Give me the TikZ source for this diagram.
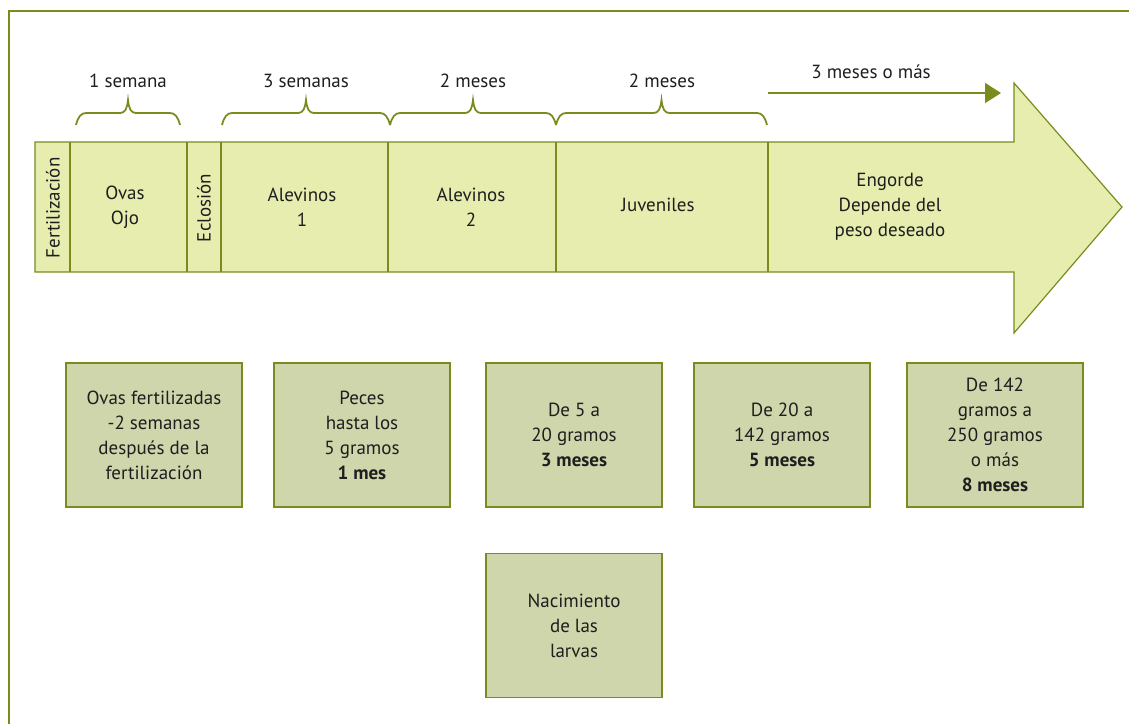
\documentclass[tikz,border=0pt]{standalone}
\usepackage{fontspec}
\setmainfont{PT Sans}
\usepackage{tikz}
\usetikzlibrary{arrows.meta, positioning}
\usepackage{xcolor}
\definecolor{olivegreen}{RGB}{122, 140, 30}
\definecolor{arrowfill}{RGB}{230, 237, 175}
\definecolor{boxfill}{RGB}{207, 214, 172}
\definecolor{textgray}{RGB}{30, 30, 30}

\tikzset{
  stagebox/.style={draw=olivegreen, line width=1.5pt, fill=boxfill, minimum width=176pt, minimum height=144pt, align=center},
  cell/.style={align=center},
  bracket/.style={draw=olivegreen, line width=1.8pt},
  divider/.style={draw=olivegreen, line width=1.2pt}
}

% curly bracket from x=#1 to x=#2, peak in the middle
\newcommand{\stagebrace}[2]{%
  \draw[bracket] (#1,125) .. controls ({#1+2},117) and ({#1+5},113) .. ({#1+10},113)
    -- ({(#1+#2)/2-8},113) .. controls ({(#1+#2)/2-3},113) and ({(#1+#2)/2-1},109) .. ({(#1+#2)/2},100)
    .. controls ({(#1+#2)/2+1},109) and ({(#1+#2)/2+3},113) .. ({(#1+#2)/2+8},113)
    -- ({#2-10},113) .. controls ({#2-5},113) and ({#2-2},117) .. (#2,125);
}

\begin{document}
\begin{tikzpicture}[x=1pt, y=-1pt, text=textgray, font=\fontsize{19}{25}\selectfont]
    \useasboundingbox (0,0) rectangle (1129,724);

    % frame
    \draw[olivegreen, line width=2.5pt] (9,724) -- (9,11) -- (1129,11);

    % big arrow
    \draw[divider, fill=arrowfill] (35,142) -- (1014,142) -- (1014,83) -- (1122,207) -- (1014,333) -- (1014,272) -- (35,272) -- cycle;
    \foreach \x in {70,187,221,388,556,768}
        \draw[divider] (\x,142) -- (\x,272);

    \node[cell, rotate=90] (fert) at (53,208) {Fertilización};
    \node[cell] (ovas) at (125,207) {Ovas\\Ojo};
    \node[cell, rotate=90] (eclosion) at (204,208) {Eclosión};
    \node[cell] (alev1) at (302,207) {Alevinos\\1};
    \node[cell] (alev2) at (471,207) {Alevinos\\2};
    \node[cell] (juveniles) at (658,205) {Juveniles};
    \node[cell] (engorde) at (890,207) {Engorde\\Depende del\\peso deseado};

    % durations
    \stagebrace{76}{180}
    \node (durOvas) at (128,81) {1 semana};
    \stagebrace{222}{390}
    \node (durAlev1) at (306,81) {3 semanas};
    \stagebrace{390}{556}
    \node (durAlev2) at (473,81) {2 meses};
    \stagebrace{556}{767}
    \node (durJuv) at (662,81) {2 meses};

    \coordinate (engStart) at (768,93);
    \coordinate (engEnd) at (1001,93);
    \draw[olivegreen, line width=1.5pt, -{Triangle[length=16pt, width=20pt]}] (engStart) -- (engEnd);
    \node (durEng) at (871,72) {3 meses o más};

    % weight boxes
    \node[stagebox] (ovasBox) at (154,435) {Ovas fertilizadas\\-2 semanas\\después de la\\fertilización};
    \node[stagebox] (pecesBox) at (362,435) {Peces\\hasta los\\5 gramos\\\textbf{1 mes}};
    \node[stagebox] (alevBox) at (574,435) {De 5 a\\20 gramos\\\textbf{3 meses}};
    \node[stagebox] (juvBox) at (782,435) {De 20 a\\142 gramos\\\textbf{5 meses}};
    \node[stagebox] (engBox) at (995,435) {De 142\\gramos a\\250 gramos\\o más\\\textbf{8 meses}};
    \node[stagebox, below=45pt of alevBox] (larvaBox) {Nacimiento\\de las\\larvas};
\end{tikzpicture}
\end{document}
